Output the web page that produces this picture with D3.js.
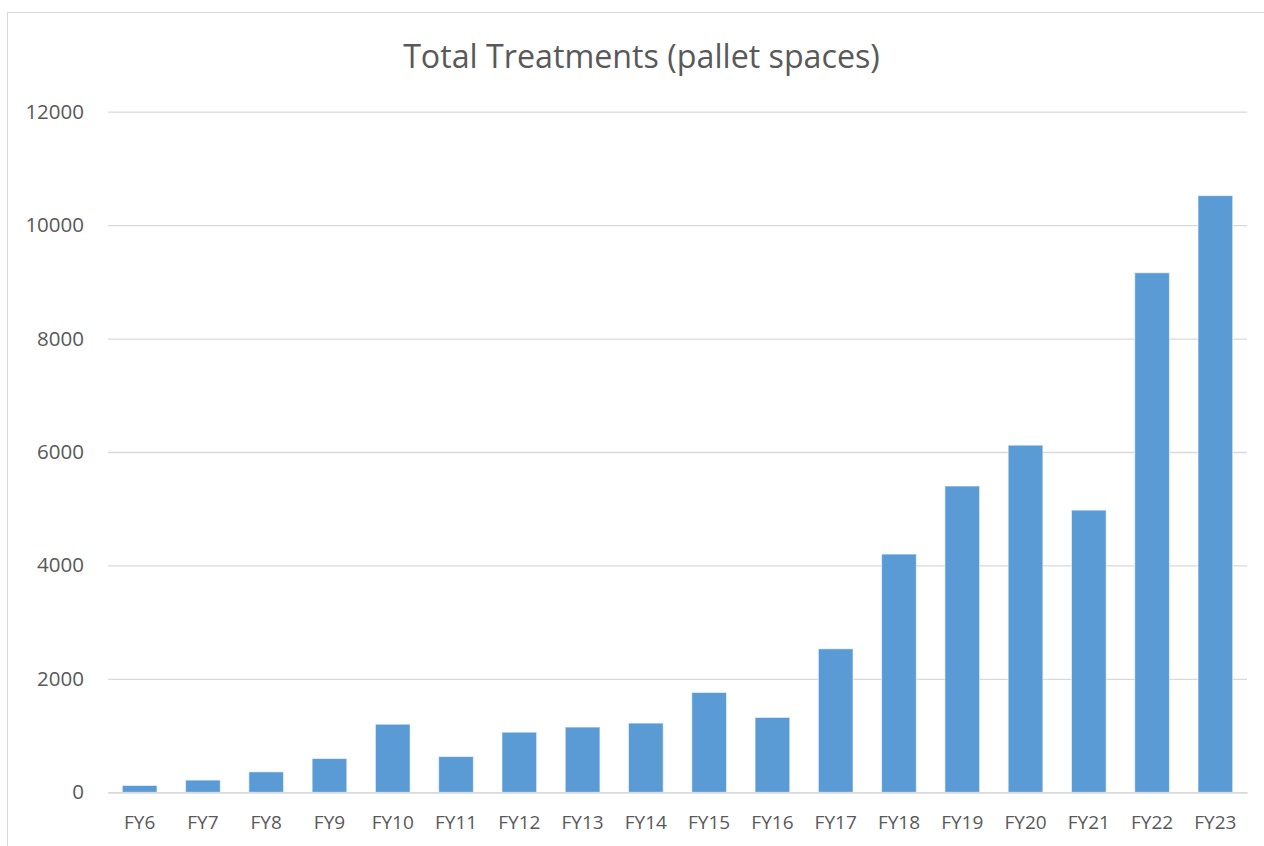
<!DOCTYPE html>
<html>
<head>
<meta charset="utf-8">
<script src="https://cdn.jsdelivr.net/npm/d3@7"></script>
<style>
  html, body { margin: 0; padding: 0; background: #fff; }
  svg { display: block; }
  text { font-family: "Open Sans", "Noto Sans", sans-serif; fill: #595959; }
</style>
</head>
<body>
<svg id="chart" width="1264" height="846"></svg>
<script>
// Fiscal years and treated pallet spaces
const years = ["FY6","FY7","FY8","FY9","FY10","FY11","FY12","FY13","FY14","FY15","FY16","FY17","FY18","FY19","FY20","FY21","FY22","FY23"];
const treatments = [120, 215, 360, 595, 1200, 630, 1060, 1150, 1220, 1760, 1320, 2530, 4200, 5400, 6120, 4975, 9160, 10520];
const yTicks = [0, 2000, 4000, 6000, 8000, 10000, 12000];
const chartTitle = "Total Treatments (pallet spaces)";

const svg = d3.select("#chart");
const plot = { left: 108, right: 1247, top: 111.7, bottom: 792.3 };

// Chart frame (runs past the right and bottom edges)
svg.append("rect")
  .attr("x", 7.5).attr("y", 12.5)
  .attr("width", 1400).attr("height", 1000)
  .attr("fill", "#fff").attr("stroke", "#D9D9D9").attr("stroke-width", 1);

const x = d3.scaleBand()
  .domain(years)
  .range([plot.left, plot.right])
  .paddingInner(0.452)
  .paddingOuter(0.226);

const y = d3.scaleLinear()
  .domain([0, 12000])
  .range([plot.bottom, plot.top]);

// Horizontal gridlines with value labels
const yAxis = svg.append("g")
  .attr("transform", `translate(${plot.left},0)`)
  .call(d3.axisLeft(y).tickValues(yTicks).tickSize(-(plot.right - plot.left)).tickPadding(24).tickFormat(d3.format("d")));
yAxis.select(".domain").remove();
yAxis.selectAll(".tick line").attr("stroke", "#D9D9D9").attr("stroke-width", 1.3);
yAxis.selectAll(".tick text")
  .attr("font-size", 20.5)
  .attr("fill", "#595959")
  .style("font-family", '"Open Sans", "Noto Sans", sans-serif');

// Bars
svg.append("g").selectAll("rect")
  .data(years.map((yr, i) => ({ yr, v: treatments[i] })))
  .join("rect")
  .attr("x", d => x(d.yr))
  .attr("width", x.bandwidth())
  .attr("y", d => y(d.v))
  .attr("height", d => y(0) - y(d.v))
  .attr("fill", "#5B9BD5")
  .attr("stroke", "#ffffff")
  .attr("stroke-opacity", 0.55)
  .attr("stroke-width", 1);

// Category axis
const xAxis = svg.append("g")
  .attr("transform", `translate(0,${plot.bottom})`)
  .call(d3.axisBottom(x).tickSize(0).tickPadding(23));
xAxis.select(".domain").attr("stroke", "#D9D9D9").attr("stroke-width", 1.5);
xAxis.selectAll(".tick text")
  .attr("font-size", 19)
  .attr("fill", "#595959")
  .style("font-family", '"Open Sans", "Noto Sans", sans-serif');

// Title
const title = svg.append("text")
  .attr("x", 641.5).attr("y", 67.5)
  .attr("text-anchor", "middle")
  .attr("font-size", 30)
  .text(chartTitle);
const w = title.node().getComputedTextLength();
title.attr("font-size", 30 * 477 / w);
</script>
</body>
</html>
